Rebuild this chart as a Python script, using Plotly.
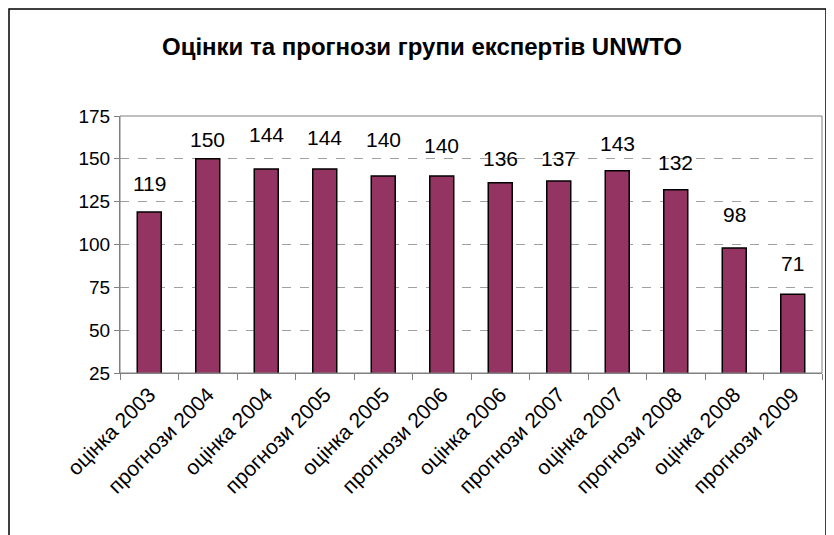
import plotly.graph_objects as go

categories = ["оцінка 2003", "прогнози 2004", "оцінка 2004", "прогнози 2005",
              "оцінка 2005", "прогнози 2006", "оцінка 2006", "прогнози 2007",
              "оцінка 2007", "прогнози 2008", "оцінка 2008", "прогнози 2009"]
values = [119, 150, 144, 144, 140, 140, 136, 137, 143, 132, 98, 71]
y_ticks = [25, 50, 75, 100, 125, 150, 175]

# pixel gap between each bar top and its value label (as placed in the original)
label_gap_px = [20, 11, 26, 23, 28, 22, 16, 14, 19, 19, 25, 22]

FONT = "Liberation Sans, Arial, sans-serif"

fig = go.Figure(go.Bar(
    x=categories, y=values,
    marker=dict(color="#943462", line=dict(color="black", width=1.5)),
    width=0.41,
))

for c, v, g in zip(categories, values, label_gap_px):
    fig.add_annotation(x=c, y=v, text=str(v), showarrow=False,
                       yanchor="bottom", yshift=g - 5,
                       font=dict(family=FONT, size=21, color="black"))

# page has an 8px body margin, so the figure is drawn 8px smaller/offset
W, H = 826, 527
L, R, T, B = 112, 12, 108, 162
pw, ph = W - L - R, H - T - B

def px(x):
    return (x - L) / pw

def py(y):
    return (H - B - y) / ph

fig.update_layout(
    width=W, height=H,
    margin=dict(l=L, r=R, t=T, b=B, autoexpand=False),
    paper_bgcolor="white", plot_bgcolor="white",
    showlegend=False,
    title=dict(text="<b>Оцінки та прогнози групи експертів UNWTO</b>",
               x=414 / W, xanchor="center", y=1 - 39 / H, yanchor="middle",
               font=dict(family=FONT, size=24, color="black")),
    xaxis=dict(
        tickangle=-45, tickson="boundaries", ticks="outside", ticklen=6,
        tickcolor="#808080", showline=True, linecolor="#808080", linewidth=1,
        tickfont=dict(family=FONT, size=21, color="black"),
        showgrid=False, automargin=False,
    ),
    yaxis=dict(
        range=[25, 175], tickvals=y_ticks, ticks="outside", ticklen=5,
        tickcolor="#808080", showline=True, linecolor="#808080", linewidth=1,
        tickfont=dict(family=FONT, size=19, color="black"),
        showgrid=True, gridcolor="#a0a0a0", griddash="dash", gridwidth=1,
        zeroline=False, automargin=False,
    ),
    bargap=0.59,
    shapes=[
        dict(type="rect", xref="paper", yref="paper", x0=0, x1=1, y0=0, y1=1,
             line=dict(color="#808080", width=1), layer="above"),
        dict(type="rect", xref="paper", yref="paper",
             x0=px(1), x1=px(818), y0=py(H + 10), y1=py(1),
             line=dict(color="black", width=1.5)),
    ],
)

fig.write_html("out.html")
